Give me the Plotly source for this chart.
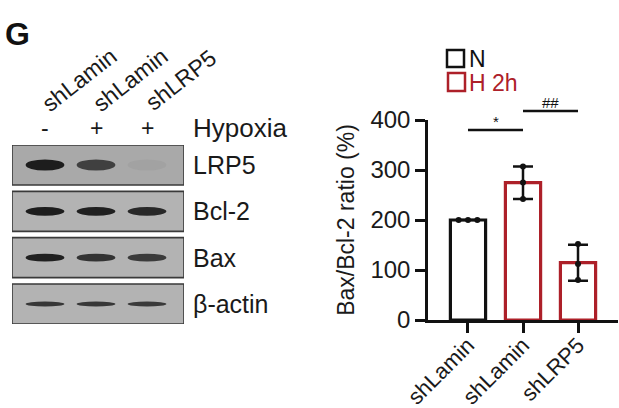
import numpy as np
import plotly.graph_objects as go

# ---------------- data ----------------
groups = ["shLamin", "shLamin", "shLRP5"]
conditions = ["N", "H 2h", "H 2h"]
rep_values = [
    [200, 200, 200],
    [242, 275, 307],
    [80, 112, 152],
]
y_ticks = [0, 100, 200, 300, 400]
sig_pairs = [(0, 1), (1, 2)]
sig_levels = [380, 418]
sig_labels = ["*", "##"]

lanes = [1, 2, 3]
lane_labels = ["shLamin", "shLamin", "shLRP5"]
hypoxia_signs = ["-", "+", "+"]
blot_rows = ["LRP5", "Bcl-2", "Bax", "β-actin"]
band_intensity = [
    [0.95, 0.72, 0.06],
    [0.95, 0.93, 0.88],
    [0.93, 0.80, 0.75],
    [0.78, 0.78, 0.76],
]

# ---------------- style ----------------
W, H = 619, 408
FONT = "Liberation Sans, Arial, sans-serif"
RED = "#ad2029"
BLACK = "#111111"
TXT = "#1a1a1a"
cond_color = {"N": BLACK, "H 2h": RED}


def px_x(p):
    return p / W


def px_y(p):
    return 1 - p / H


means = [float(np.mean(v)) for v in rep_values]
sds = [float(np.std(v, ddof=1)) for v in rep_values]
xs = list(range(len(groups)))

fig = go.Figure()

for cond in ["N", "H 2h"]:
    idx = [i for i, c in enumerate(conditions) if c == cond]
    fig.add_trace(go.Bar(
        x=[xs[i] for i in idx], y=[means[i] for i in idx], name=cond,
        width=0.64,
        marker=dict(color="white", line=dict(color=cond_color[cond], width=3.2)),
        error_y=dict(type="data", array=[sds[i] for i in idx], color=BLACK,
                     thickness=2.5, width=10),
        showlegend=False, xaxis="x", yaxis="y",
    ))

# replicate dots
for i, vals in enumerate(rep_values):
    offs = [-0.17, 0.0, 0.17] if len(set(vals)) == 1 else [0.0] * len(vals)
    fig.add_trace(go.Scatter(
        x=[xs[i] + o for o in offs], y=vals, mode="markers",
        marker=dict(color=BLACK, size=6), showlegend=False, cliponaxis=False,
        xaxis="x", yaxis="y",
    ))

# significance brackets
for (a, b), lvl, lab in zip(sig_pairs, sig_levels, sig_labels):
    fig.add_trace(go.Scatter(
        x=[xs[a], xs[b]], y=[lvl, lvl], mode="lines",
        line=dict(color=BLACK, width=2.5), showlegend=False,
        xaxis="x3", yaxis="y3", hoverinfo="skip",
    ))
    fig.add_annotation(x=(xs[a] + xs[b]) / 2, y=lvl, xref="x3", yref="y3",
                       text=lab, showarrow=False, xanchor="center",
                       yanchor="bottom", yshift=-2,
                       font=dict(size=15, color=BLACK, family=FONT))

# ---------------- blot panel ----------------
shapes = []
BG = np.array([172, 172, 172])
DARK = np.array([22, 22, 22])
band_hh = [0.12, 0.095, 0.085, 0.055]
for r, row in enumerate(blot_rows):
    ry = r + 1
    shapes.append(dict(type="rect", xref="x2", yref="y2", x0=0.353, x1=3.725,
                       y0=ry - 0.432, y1=ry + 0.432,
                       fillcolor="#a9a9a9" if r == 0 else "#b3b3b3",
                       line=dict(color="#3a3a3a", width=1.6), layer="below"))
    for li, lane in enumerate(lanes):
        it = band_intensity[r][li]
        c = (BG * (1 - it) + DARK * it).astype(int)
        shapes.append(dict(type="circle", xref="x2", yref="y2",
                           x0=lane - 0.38, x1=lane + 0.38,
                           y0=ry - band_hh[r], y1=ry + band_hh[r],
                           fillcolor=f"rgb({c[0]},{c[1]},{c[2]})",
                           line=dict(width=0)))
    fig.add_annotation(x=px_x(191), y=ry, xref="paper", yref="y2", text=row,
                       xanchor="left", yanchor="middle", showarrow=False,
                       font=dict(size=25, color=TXT, family=FONT))

for lane, lab, sign in zip(lanes, lane_labels, hypoxia_signs):
    fig.add_annotation(x=lane, y=px_y(80), xref="x2", yref="paper", text=lab,
                       textangle=-38, xshift=34, xanchor="center",
                       yanchor="middle", showarrow=False,
                       font=dict(size=23, color=TXT, family=FONT))
    fig.add_annotation(x=lane, y=px_y(128), xref="x2", yref="paper", text=sign,
                       xanchor="center", yanchor="middle", showarrow=False,
                       font=dict(size=23, color=TXT, family=FONT))

fig.add_annotation(x=px_x(191), y=px_y(128), xref="paper", yref="paper",
                   text="Hypoxia", xanchor="left", yanchor="middle",
                   showarrow=False, font=dict(size=26, color=TXT, family=FONT))
fig.add_annotation(x=px_x(3), y=px_y(34), xref="paper", yref="paper",
                   text="<b>G</b>", xanchor="left", yanchor="middle",
                   showarrow=False,
                   font=dict(size=32, color=BLACK, family=FONT))

# legend (manual)
shapes.append(dict(type="rect", xref="paper", yref="paper",
                   x0=px_x(447), x1=px_x(464), y0=px_y(67), y1=px_y(50),
                   fillcolor="white", line=dict(color=BLACK, width=2.5)))
shapes.append(dict(type="rect", xref="paper", yref="paper",
                   x0=px_x(448), x1=px_x(465), y0=px_y(91), y1=px_y(73),
                   fillcolor="white", line=dict(color=RED, width=2.5)))
fig.add_annotation(x=px_x(467), y=px_y(59), xref="paper", yref="paper",
                   text="N", xanchor="left", yanchor="middle", showarrow=False,
                   font=dict(size=23, color=BLACK, family=FONT))
fig.add_annotation(x=px_x(467), y=px_y(83), xref="paper", yref="paper",
                   text="H 2h", xanchor="left", yanchor="middle", showarrow=False,
                   font=dict(size=23, color=RED, family=FONT))

axis_style = dict(showline=True, linecolor=BLACK, linewidth=2.5, ticks="outside",
                  ticklen=10, tickwidth=2.5, tickcolor=BLACK, showgrid=False,
                  zeroline=False, automargin=False,
                  tickfont=dict(size=24, color=TXT, family=FONT))
hidden = dict(visible=False, automargin=False, showgrid=False, zeroline=False)

fig.update_layout(
    template="none",
    width=W, height=H, margin=dict(l=0, r=0, t=0, b=0, pad=0, autoexpand=False),
    paper_bgcolor="white", plot_bgcolor="rgba(0,0,0,0)",
    font=dict(family=FONT),
    barmode="overlay",
    shapes=shapes,
    xaxis=dict(domain=[px_x(428), px_x(618)], range=[-0.727, 2.727],
               tickvals=xs, ticktext=groups, tickangle=-45, anchor="y",
               **axis_style),
    yaxis=dict(domain=[px_y(320), px_y(120)], range=[0, 400], tickvals=y_ticks,
               anchor="x",
               title=dict(text="Bax/Bcl-2 ratio (%)", standoff=10,
                          font=dict(size=23, color=TXT, family=FONT)),
               **axis_style),
    xaxis2=dict(domain=[px_x(12), px_x(184)], range=[0.353, 3.725], anchor="y2",
                **hidden),
    yaxis2=dict(domain=[px_y(324), px_y(145)], range=[4.432, 0.568], anchor="x2",
                **hidden),
    xaxis3=dict(domain=[px_x(428), px_x(618)], range=[-0.727, 2.727], anchor="y3",
                **hidden),
    yaxis3=dict(domain=[px_y(320), px_y(100)], range=[0, 440], anchor="x3",
                **hidden),
)
fig.update_xaxes(selector=dict(anchor="y"), tickfont=dict(size=22),
                 ticklabelstandoff=-9)

fig.write_html("out.html", config={"displayModeBar": False},
               post_script="document.body.style.margin='0';"
                           "document.body.style.padding='0';")
